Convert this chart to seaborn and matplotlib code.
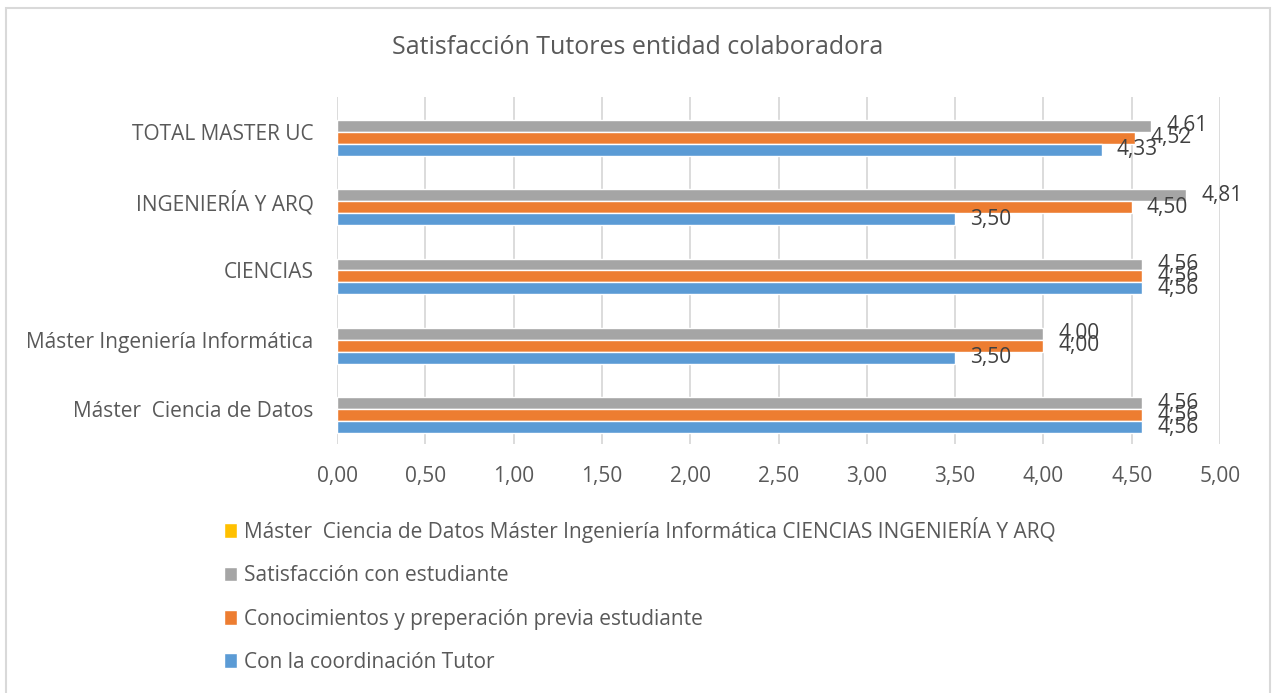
import matplotlib
matplotlib.use("Agg")
import matplotlib.pyplot as plt
from matplotlib.patches import Patch, Rectangle
from matplotlib.ticker import FixedLocator, FuncFormatter
import numpy as np
import pandas as pd
import seaborn as sns

# Categories, listed top to bottom
categories = ["TOTAL MASTER UC", "INGENIERÍA Y ARQ", "CIENCIAS",
              "Máster Ingeniería Informática", "Máster  Ciencia de Datos"]

# Series values per category (same order as categories)
serie_vacia = [np.nan, np.nan, np.nan, np.nan, np.nan]
satisfaccion = [4.61, 4.81, 4.56, 4.00, 4.56]
conocimientos = [4.52, 4.50, 4.56, 4.00, 4.56]
coordinacion = [4.33, 3.50, 4.56, 3.50, 4.56]

series_names = ["Máster  Ciencia de Datos Máster Ingeniería Informática "
                "CIENCIAS INGENIERÍA Y ARQ",
                "Satisfacción con estudiante",
                "Conocimientos y preperación previa estudiante",
                "Con la coordinación Tutor"]

x_ticks = [0.0, 0.5, 1.0, 1.5, 2.0, 2.5, 3.0, 3.5, 4.0, 4.5, 5.0]

colors = dict(zip(series_names, ["#FFC000", "#A5A5A5", "#ED7D31", "#5B9BD5"]))

rows = []
for name, vals in zip(series_names,
                      [serie_vacia, satisfaccion, conocimientos, coordinacion]):
    for cat, v in zip(categories, vals):
        rows.append({"categoria": cat, "serie": name, "valor": v})
df = pd.DataFrame(rows)

sns.set_theme(style="white")
plt.rcParams["font.family"] = ["Open Sans", "DejaVu Sans"]
text_color = "#595959"

fig = plt.figure(figsize=(12.75, 6.93), dpi=100)
ax = fig.add_axes([337 / 1275, 1 - 444 / 693, (1220 - 337) / 1275, 347 / 693])

sns.barplot(data=df, y="categoria", x="valor", hue="serie",
            order=categories, hue_order=series_names, palette=colors,
            orient="h", width=0.69, errorbar=None, legend=False,
            saturation=1, ax=ax)

for container in ax.containers:
    vals = [v for v in container.datavalues if np.isfinite(v)]
    if not vals:
        continue
    labels = [f"{v:.2f}".replace(".", ",") for v in container.datavalues]
    ax.bar_label(container, labels=labels, padding=11, color="#404040",
                 fontsize=15)

ax.set_xlim(0, 5)
ax.set_ylim(4.5, -0.5)
ax.xaxis.set_major_locator(FixedLocator(x_ticks))
ax.xaxis.set_major_formatter(FuncFormatter(lambda v, p: f"{v:.2f}".replace(".", ",")))
ax.grid(axis="x", color="#D9D9D9", linewidth=1.3)
ax.set_axisbelow(True)
for s in ax.spines.values():
    s.set_visible(False)
ax.tick_params(axis="both", length=0, colors=text_color, labelsize=15)
ax.tick_params(axis="x", pad=16)
ax.tick_params(axis="y", pad=17)
ax.set_xlabel("")
ax.set_ylabel("")

fig.text(638 / 1275, 1 - 47 / 693, "Satisfacción Tutores entidad colaboradora",
         ha="center", va="center", fontsize=18, color=text_color)

handles = [Patch(facecolor=colors[n], label=n) for n in series_names]
fig.legend(handles=handles, loc="upper left",
           bbox_to_anchor=(224 / 1275, 1 - 517 / 693),
           frameon=False, fontsize=15, labelcolor=text_color,
           handlelength=0.62, handleheight=0.7, handletextpad=0.32,
           labelspacing=1.07, borderaxespad=0, borderpad=0)

fig.patches.append(Rectangle((5.5 / 1275, -0.1), (1269.5 - 5.5) / 1275,
                             1.1 - 8.5 / 693, transform=fig.transFigure,
                             fill=False, edgecolor="#D9D9D9", linewidth=1.5))

fig.savefig("out.png", dpi=100, facecolor="white")
